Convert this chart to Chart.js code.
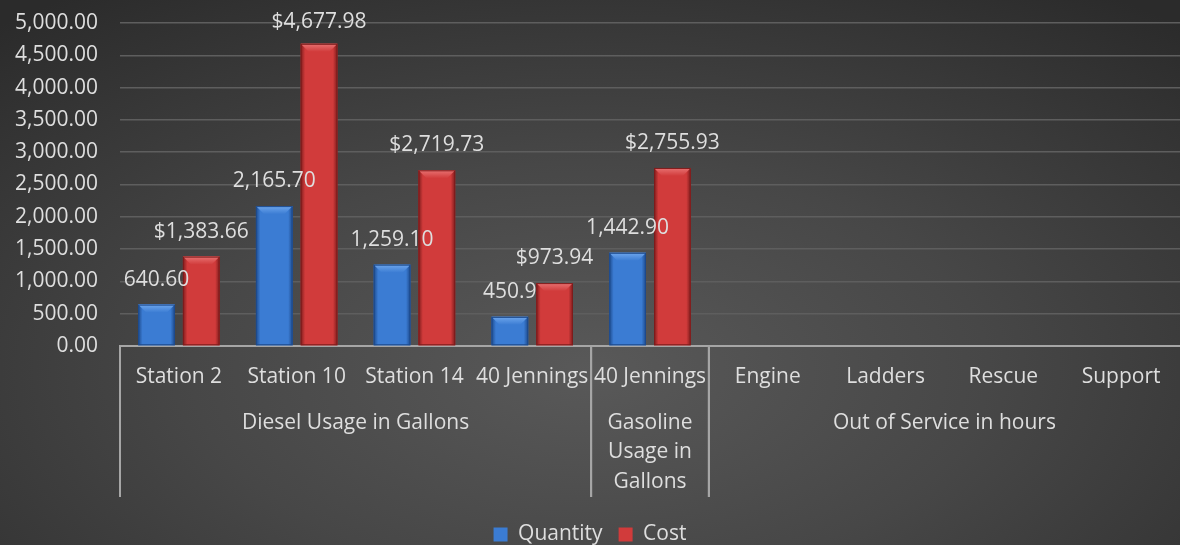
<!DOCTYPE html>
<html>
<head>
<meta charset="utf-8">
<script src="https://cdn.jsdelivr.net/npm/chart.js@4.4.1/dist/chart.umd.min.js"></script>
<style>
  html, body { margin: 0; padding: 0; }
  body {
    width: 1180px; height: 545px; overflow: hidden;
    background: radial-gradient(ellipse 75% 85% at 50% 68%, #595959 0%, #474747 45%, #2b2b2b 100%);
  }
  #wrap { width: 1180px; height: 545px; }
</style>
</head>
<body>
<div id="wrap"><canvas id="fuelChart" width="1180" height="545"></canvas></div>
<script>
const categories = ['Station 2', 'Station 10', 'Station 14', '40 Jennings', '40 Jennings', 'Engine', 'Ladders', 'Rescue', 'Support'];
const groups = [
  { label: ['Diesel Usage in Gallons'], from: 0, to: 3 },
  { label: ['Gasoline', 'Usage in', 'Gallons'], from: 4, to: 4 },
  { label: ['Out of Service in hours'], from: 5, to: 8 }
];
const quantity = [640.60, 2165.70, 1259.10, 450.9, 1442.90, null, null, null, null];
const quantityText = ['640.60', '2,165.70', '1,259.10', '450.9', '1,442.90'];
const cost = [1383.66, 4677.98, 2719.73, 973.94, 2755.93, null, null, null, null];
const yMax = 5000;
const yStep = 500;

const FONT = 'Open Sans';
const FSIZE = 21;
const TEXT = '#dedede';

const palette = {
  Quantity: { main: '#3b7cd3', light: '#6ea6ec', dark: '#1d4a8c' },
  Cost: { main: '#d13b3b', light: '#e87272', dark: '#7e1c1c' }
};

function money(v) {
  return '$' + v.toLocaleString('en-US', { minimumFractionDigits: 2, maximumFractionDigits: 2 });
}

// bars with side shading and a bevelled top, drawn over the library's bar elements
const bevelBars = {
  id: 'bevelBars',
  afterDatasetsDraw(chart) {
    const ctx = chart.ctx;
    chart.data.datasets.forEach((ds, di) => {
      const c = palette[ds.label];
      chart.getDatasetMeta(di).data.forEach((bar, i) => {
        if (ds.data[i] == null) return;
        const { x, y, base, width } = bar.getProps(['x', 'y', 'base', 'width'], true);
        const l = x - width / 2, r = x + width / 2, b = 8;
        ctx.save();
        const g = ctx.createLinearGradient(l, 0, r, 0);
        g.addColorStop(0, c.dark);
        g.addColorStop(0.12, c.main);
        g.addColorStop(0.5, c.main);
        g.addColorStop(0.88, c.main);
        g.addColorStop(1, c.dark);
        ctx.fillStyle = g;
        ctx.fillRect(l, y, width, base - y);
        // top bevel
        const tg = ctx.createLinearGradient(0, y, 0, y + b);
        tg.addColorStop(0, c.light);
        tg.addColorStop(1, c.main);
        ctx.fillStyle = tg;
        ctx.beginPath();
        ctx.moveTo(l, y); ctx.lineTo(r, y); ctx.lineTo(r - b, y + b); ctx.lineTo(l + b, y + b);
        ctx.closePath(); ctx.fill();
        ctx.strokeStyle = c.dark;
        ctx.lineWidth = 1;
        ctx.strokeRect(l + 0.5, y + 0.5, width - 1, base - y - 1);
        ctx.restore();
      });
    });
  }
};

// value labels above bars
const valueLabels = {
  id: 'valueLabels',
  afterDatasetsDraw(chart) {
    const ctx = chart.ctx;
    ctx.save();
    ctx.font = FSIZE + 'px "' + FONT + '"';
    ctx.fillStyle = TEXT;
    ctx.textAlign = 'center';
    ctx.textBaseline = 'middle';
    chart.data.datasets.forEach((ds, di) => {
      chart.getDatasetMeta(di).data.forEach((bar, i) => {
        const v = ds.data[i];
        if (v == null) return;
        const txt = ds.label === 'Cost' ? money(v) : quantityText[i];
        ctx.fillText(txt, bar.x, Math.max(bar.y - 25, 22));
      });
    });
    ctx.restore();
  }
};

// second level of the category axis: group names and separators
const groupAxis = {
  id: 'groupAxis',
  afterDraw(chart) {
    const xs = chart.scales.x;
    const ctx = chart.ctx;
    const edge = i => {
      if (i < 0) return xs.left;
      if (i >= categories.length - 1) return xs.right;
      return (xs.getPixelForTick(i) + xs.getPixelForTick(i + 1)) / 2;
    };
    const top = xs.top, bottom = top + 151;
    ctx.save();
    ctx.strokeStyle = '#a6a6a6';
    ctx.lineWidth = 2;
    groups.forEach(g => {
      const left = edge(g.from - 1), right = edge(g.to);
      [left, right].forEach(px => {
        if (px >= xs.right - 1) return;
        ctx.beginPath(); ctx.moveTo(px, top); ctx.lineTo(px, bottom); ctx.stroke();
      });
      ctx.font = FSIZE + 'px "' + FONT + '"';
      ctx.fillStyle = TEXT;
      ctx.textAlign = 'center';
      ctx.textBaseline = 'middle';
      g.label.forEach((line, li) => ctx.fillText(line, (left + right) / 2, top + 77 + li * 29.5));
    });
    ctx.restore();
  }
};

new Chart(document.getElementById('fuelChart'), {
  type: 'bar',
  data: {
    labels: categories,
    datasets: [
      { label: 'Quantity', data: quantity, backgroundColor: palette.Quantity.main },
      { label: 'Cost', data: cost, backgroundColor: palette.Cost.main }
    ]
  },
  options: {
    responsive: false,
    animation: false,
    categoryPercentage: 0.76,
    barPercentage: 0.82,
    layout: { padding: { top: 23, right: 0, bottom: -10, left: 0 } },
    plugins: {
      tooltip: { enabled: false },
      legend: {
        position: 'bottom',
        labels: {
          color: TEXT,
          font: { family: FONT, size: FSIZE },
          boxWidth: 14,
          boxHeight: 14,
          padding: 16
        }
      }
    },
    scales: {
      y: {
        min: 0,
        max: yMax,
        afterFit(scale) { scale.width = 120; scale.paddingTop = 0; scale.paddingBottom = 0; },
        ticks: {
          stepSize: yStep,
          color: TEXT,
          font: { family: FONT, size: FSIZE },
          padding: 22,
          callback: v => Number(v).toLocaleString('en-US', { minimumFractionDigits: 2, maximumFractionDigits: 2 })
        },
        grid: { color: '#5e5e5e', lineWidth: 1.5, drawTicks: false },
        border: { display: false }
      },
      x: {
        afterFit(scale) { scale.height = 162; scale.paddingLeft = 0; scale.paddingRight = 0; },
        ticks: {
          color: TEXT,
          font: { family: FONT, size: FSIZE },
          autoSkip: false,
          maxRotation: 0,
          padding: 18
        },
        grid: { display: false, drawTicks: false },
        border: { display: true, color: '#a6a6a6', width: 2 }
      }
    }
  },
  plugins: [bevelBars, valueLabels, groupAxis]
});
</script>
</body>
</html>
